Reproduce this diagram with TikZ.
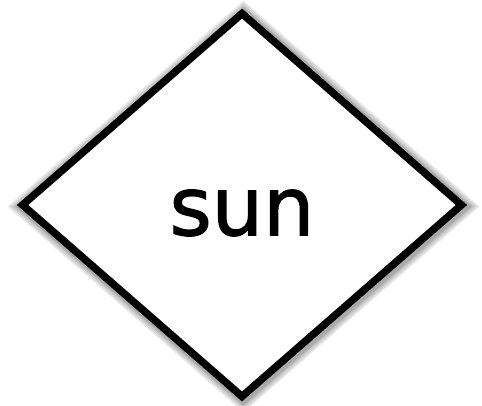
\documentclass[tikz,border=0pt]{standalone}
\usepackage{fontspec}
\setmainfont{DejaVu Sans}
\newfontfamily\sunfont[FakeBold=1.6]{DejaVu Sans}
\usetikzlibrary{shapes.geometric}
\tikzset{
  glow/.style={preaction={draw=black, line width=#1, draw opacity=0.08,
    transform canvas={shift={(1.5pt,-1.5pt)}}}},
  decision/.style={shape=diamond, draw=black, line width=7.5pt, fill=white,
    minimum width=442pt, minimum height=386pt, inner sep=0pt, line join=miter,
    glow=22pt, glow=19pt, glow=16pt, glow=13pt, glow=11pt},
  bigtext/.style={font=\sunfont\fontsize{81}{84}\selectfont, inner sep=0pt, text=black}
}
\begin{document}
\begin{tikzpicture}[x=1pt,y=1pt]
  \useasboundingbox (0,0) rectangle (482,406);
  \node[decision] (d) at (242,201) {};
  \node[bigtext] (t) at ([yshift=-8pt]d.center) {sun};
\end{tikzpicture}
\end{document}
